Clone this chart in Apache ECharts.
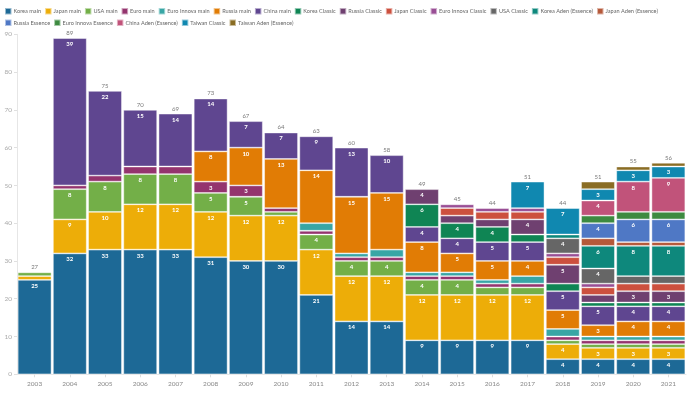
<!DOCTYPE html>
<html><head><meta charset="utf-8">
<script src="https://cdn.jsdelivr.net/npm/echarts@6/dist/echarts.min.js"></script>
<style>html,body{margin:0;padding:0;background:#fff}#c{width:700px;height:394px}</style>
</head><body><div id="c"></div>
<script>
const years = ['2003','2004','2005','2006','2007','2008','2009','2010','2011','2012','2013','2014','2015','2016','2017','2018','2019','2020','2021'];
const koreaMain        = [25,32,33,33,33,31,30,30,21,14,14,9,9,9,9,4,4,4,4];
const japanMain        = [1,9,10,12,12,12,12,12,12,12,12,12,12,12,12,4,3,3,3];
const usaMain          = [1,8,8,8,8,5,5,1,4,4,4,4,4,2,2,1,1,1,1];
const euroMain         = [0,1,1.6,2,2,3,3,1,1,1,1,1,1,1,1,1,1,1,1];
const euroInnovaMain   = [0,0,0,0,0,0,0,0,2,1,2,1,1,1,2,2,1,1,1];
const russiaMain       = [0,0,0,0,0,8,10,13,14,15,15,8,5,5,4,5,3,4,4];
const chinaMain        = [0,39,22.4,15,14,14,7,7,9,13,10,4,4,5,5,5,5,4,4];
const koreaClassic     = [0,0,0,0,0,0,0,0,0,0,0,6,4,4,2,2,1,1,1];
const russiaClassic    = [0,0,0,0,0,0,0,0,0,0,0,4,2,2,4,5,2,3,3];
const japanClassic     = [0,0,0,0,0,0,0,0,0,0,0,0,2,2,2,2,2,2,2];
const euroInnovaClassic= [0,0,0,0,0,0,0,0,0,0,0,0,1,1,1,1,1,0,0];
const usaClassic       = [0,0,0,0,0,0,0,0,0,0,0,0,0,0,0,4,4,2,2];
const koreaAden        = [0,0,0,0,0,0,0,0,0,0,0,0,0,0,0,1,6,8,8];
const japanAden        = [0,0,0,0,0,0,0,0,0,0,0,0,0,0,0,0,2,1,1];
const russiaEssence    = [0,0,0,0,0,0,0,0,0,0,0,0,0,0,0,0,4,6,6];
const euroInnovaEssence= [0,0,0,0,0,0,0,0,0,0,0,0,0,0,0,0,2,2,2];
const chinaAden        = [0,0,0,0,0,0,0,0,0,0,0,0,0,0,0,0,4,8,9];
const taiwanClassic    = [0,0,0,0,0,0,0,0,0,0,0,0,0,0,7,7,3,3,3];
const taiwanAden       = [0,0,0,0,0,0,0,0,0,0,0,0,0,0,0,0,2,1,1];

const seriesDefs = [
  ['Korea main', koreaMain, '#1d6996'],
  ['Japan main', japanMain, '#edad08'],
  ['USA main', usaMain, '#73af48'],
  ['Euro main', euroMain, '#94346e'],
  ['Euro Innova main', euroInnovaMain, '#38a6a5'],
  ['Russia main', russiaMain, '#e17c05'],
  ['China main', chinaMain, '#5f4690'],
  ['Korea Classic', koreaClassic, '#0f8554'],
  ['Russia Classic', russiaClassic, '#6f4070'],
  ['Japan Classic', japanClassic, '#cc503e'],
  ['Euro Innova Classic', euroInnovaClassic, '#994e95'],
  ['USA Classic', usaClassic, '#666666'],
  ['Korea Aden (Essence)', koreaAden, '#0e887c'],
  ['Japan Aden (Essence)', japanAden, '#b5593a'],
  ['Russia Essence', russiaEssence, '#4f78c5'],
  ['Euro Innova Essence', euroInnovaEssence, '#3d8a40'],
  ['China Aden (Essence)', chinaAden, '#c1537a'],
  ['Taiwan Classic', taiwanClassic, '#1088b0'],
  ['Taiwan Aden (Essence)', taiwanAden, '#8a6d24']
];

const totals = years.map((_, i) => seriesDefs.reduce((s, d) => s + d[1][i], 0));

const series = seriesDefs.map(([name, data, color]) => ({
  name, type: 'bar', stack: 'total', data: data.map(v => v === 0 ? null : v),
  barCategoryGap: '4%',
  itemStyle: { color, borderColor: 'rgba(255,255,255,0.55)', borderWidth: 0.8 },
  label: {
    show: true, position: 'insideTop', distance: 3,
    fontSize: 6, fontWeight: 'bold', color: '#fff', fontFamily: 'Lato',
    formatter: p => (p.value >= 3 ? String(Math.round(p.value)) : '')
  },
  emphasis: { disabled: true }
}));

series.push({
  name: 'Total', type: 'scatter', data: totals, symbolSize: 0, silent: true,
  label: { show: true, position: 'top', distance: 2, fontSize: 6, color: '#555', fontFamily: 'Lato',
    formatter: p => String(Math.round(p.value)) }
});

const chart = echarts.init(document.getElementById('c'), null, { renderer: 'canvas' });
chart.setOption({
  animation: false,
  color: seriesDefs.map(d => d[2]),
  legend: {
    data: seriesDefs.map(d => d[0]),
    left: 4, top: 7, width: 672, itemWidth: 6.5, itemHeight: 6.5, itemGap: 3,
    icon: 'rect', padding: 0,
    textStyle: { fontSize: 5.6, color: '#666', fontFamily: 'Lato', padding: [0, 0, 0, -3] }
  },
  grid: { left: 17, right: 14, top: 34.3, bottom: 19.7, containLabel: false },
  xAxis: {
    type: 'category', data: years,
    axisLine: { lineStyle: { color: '#e6e6e6' } },
    axisTick: { show: true, alignWithLabel: true, length: 3, lineStyle: { color: '#ddd' } },
    axisLabel: { fontSize: 6.5, color: '#888', fontFamily: 'Lato', margin: 6 }
  },
  yAxis: {
    type: 'value', min: 0, max: 90, interval: 10,
    axisLine: { show: true, lineStyle: { color: '#e6e6e6' } },
    axisTick: { show: true, length: 3, lineStyle: { color: '#e0e0e0' } },
    splitLine: { show: false },
    axisLabel: { fontSize: 6.5, color: '#aaa', fontFamily: 'Lato', margin: 5 }
  },
  series
});
</script>
</body></html>
